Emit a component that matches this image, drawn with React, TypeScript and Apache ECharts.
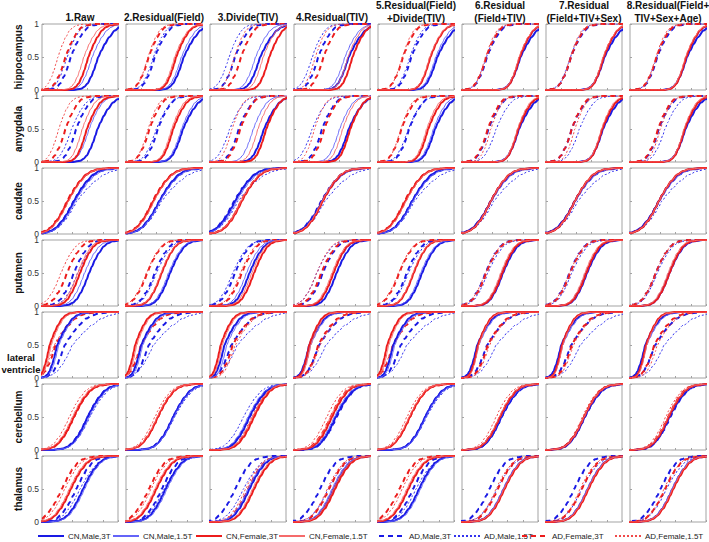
import React, { useEffect, useRef } from "react";
import * as echarts from "echarts";

// ---------------- DATA ----------------
const curveNames = [
  "CN,Male,3T",
  "CN,Male,1.5T",
  "CN,Female,3T",
  "CN,Female,1.5T",
  "AD,Male,3T",
  "AD,Male,1.5T",
  "AD,Female,3T",
  "AD,Female,1.5T",
];

const columnTitles = [
  ["1.Raw"],
  ["2.Residual(Field)"],
  ["3.Divide(TIV)"],
  ["4.Residual(TIV)"],
  ["5.Residual(Field)", "+Divide(TIV)"],
  ["6.Residual", "(Field+TIV)"],
  ["7.Residual", "(Field+TIV+Sex)"],
  ["8.Residual(Field+", "TIV+Sex+Age)"],
];

const regionNames = ["hippocampus", "amygdala", "caudate", "putamen", "lateral ventricle", "cerebellum", "thalamus"];

const yTickValues = [0, 0.5, 1];

// Cumulative-distribution shape: CDF level and its standardised offset
const cdfLevels = [0, 0, 0.02, 0.05, 0.1, 0.2, 0.3, 0.4, 0.5, 0.6, 0.7, 0.8, 0.9, 0.95, 0.98, 1, 1];
const cdfOffsets = [-9, -2.9, -2.05, -1.64, -1.28, -0.84, -0.52, -0.25, 0, 0.25, 0.52, 0.84, 1.28, 1.64, 2.05, 2.9, 9];

// Medians (x where CDF = 0.5) per column, curves in curveNames order
const hippocampusMedians = [
  [0.74, 0.66, 0.61, 0.55, 0.38, 0.33, 0.31, 0.21],
  [0.76, 0.73, 0.66, 0.64, 0.38, 0.36, 0.3, 0.29],
  [0.66, 0.6, 0.78, 0.7, 0.33, 0.25, 0.41, 0.32],
  [0.72, 0.67, 0.77, 0.71, 0.32, 0.24, 0.39, 0.28],
  [0.78, 0.76, 0.69, 0.68, 0.44, 0.42, 0.33, 0.32],
  [0.77, 0.76, 0.76, 0.75, 0.33, 0.32, 0.32, 0.31],
  [0.77, 0.76, 0.76, 0.75, 0.33, 0.32, 0.33, 0.32],
  [0.75, 0.74, 0.74, 0.73, 0.36, 0.35, 0.35, 0.34],
];
const amygdalaMedians = [
  [0.73, 0.62, 0.59, 0.53, 0.45, 0.39, 0.31, 0.22],
  [0.75, 0.73, 0.62, 0.6, 0.42, 0.4, 0.31, 0.29],
  [0.71, 0.57, 0.74, 0.63, 0.38, 0.26, 0.4, 0.29],
  [0.72, 0.6, 0.74, 0.64, 0.37, 0.24, 0.4, 0.27],
  [0.75, 0.73, 0.66, 0.64, 0.41, 0.4, 0.31, 0.3],
  [0.75, 0.74, 0.74, 0.73, 0.35, 0.45, 0.34, 0.38],
  [0.75, 0.74, 0.74, 0.73, 0.34, 0.44, 0.34, 0.38],
  [0.73, 0.72, 0.72, 0.71, 0.38, 0.46, 0.37, 0.4],
];
const caudateMedians = [
  [0.42, 0.44, 0.34, 0.35, 0.42, 0.46, 0.33, 0.34],
  [0.44, 0.45, 0.36, 0.37, 0.44, 0.47, 0.35, 0.36],
  [0.33, 0.35, 0.42, 0.41, 0.32, 0.37, 0.41, 0.4],
  [0.37, 0.38, 0.38, 0.37, 0.36, 0.41, 0.37, 0.37],
  [0.45, 0.46, 0.36, 0.37, 0.45, 0.48, 0.35, 0.36],
  [0.38, 0.39, 0.38, 0.38, 0.38, 0.42, 0.38, 0.38],
  [0.38, 0.39, 0.38, 0.38, 0.38, 0.42, 0.38, 0.38],
  [0.38, 0.39, 0.38, 0.38, 0.38, 0.42, 0.38, 0.38],
];
const putamenMedians = [
  [0.62, 0.56, 0.5, 0.47, 0.42, 0.47, 0.33, 0.25],
  [0.58, 0.56, 0.47, 0.46, 0.38, 0.4, 0.28, 0.27],
  [0.52, 0.48, 0.58, 0.55, 0.33, 0.3, 0.42, 0.4],
  [0.56, 0.52, 0.52, 0.5, 0.38, 0.3, 0.36, 0.3],
  [0.58, 0.56, 0.47, 0.46, 0.38, 0.4, 0.28, 0.27],
  [0.54, 0.52, 0.53, 0.51, 0.31, 0.34, 0.32, 0.31],
  [0.54, 0.52, 0.53, 0.51, 0.31, 0.34, 0.32, 0.31],
  [0.52, 0.51, 0.52, 0.5, 0.34, 0.36, 0.34, 0.34],
];
const lateralVentricleMedians = [
  [0.2, 0.22, 0.1, 0.12, 0.3, 0.4, 0.18, 0.16],
  [0.2, 0.22, 0.12, 0.14, 0.3, 0.36, 0.2, 0.19],
  [0.19, 0.22, 0.14, 0.16, 0.28, 0.36, 0.3, 0.33],
  [0.2, 0.22, 0.2, 0.22, 0.33, 0.42, 0.32, 0.34],
  [0.2, 0.22, 0.12, 0.14, 0.3, 0.38, 0.2, 0.19],
  [0.2, 0.22, 0.21, 0.22, 0.33, 0.45, 0.34, 0.36],
  [0.2, 0.22, 0.21, 0.22, 0.33, 0.45, 0.34, 0.36],
  [0.2, 0.22, 0.21, 0.22, 0.33, 0.45, 0.32, 0.36],
];
const cerebellumMedians = [
  [0.6, 0.62, 0.42, 0.4, 0.6, 0.63, 0.42, 0.36],
  [0.62, 0.63, 0.42, 0.41, 0.62, 0.64, 0.42, 0.38],
  [0.52, 0.5, 0.58, 0.56, 0.52, 0.44, 0.57, 0.55],
  [0.55, 0.53, 0.5, 0.48, 0.56, 0.54, 0.48, 0.43],
  [0.62, 0.63, 0.42, 0.41, 0.62, 0.64, 0.42, 0.38],
  [0.52, 0.51, 0.5, 0.49, 0.52, 0.5, 0.5, 0.45],
  [0.51, 0.5, 0.5, 0.5, 0.51, 0.5, 0.5, 0.48],
  [0.52, 0.51, 0.51, 0.5, 0.53, 0.51, 0.5, 0.47],
];
const thalamusMedians = [
  [0.54, 0.56, 0.38, 0.36, 0.45, 0.5, 0.26, 0.3],
  [0.52, 0.54, 0.4, 0.38, 0.47, 0.5, 0.3, 0.33],
  [0.52, 0.5, 0.58, 0.56, 0.33, 0.44, 0.5, 0.47],
  [0.52, 0.5, 0.54, 0.52, 0.34, 0.45, 0.46, 0.44],
  [0.54, 0.56, 0.4, 0.38, 0.46, 0.5, 0.28, 0.32],
  [0.55, 0.54, 0.56, 0.55, 0.36, 0.46, 0.47, 0.45],
  [0.55, 0.54, 0.56, 0.55, 0.37, 0.47, 0.47, 0.45],
  [0.56, 0.55, 0.57, 0.56, 0.4, 0.48, 0.46, 0.45],
];

// Spreads below / above the median, per curve
const hippocampusSpreadLow = [0.11, 0.11, 0.1, 0.1, 0.11, 0.11, 0.11, 0.1];
const hippocampusSpreadHigh = [0.17, 0.15, 0.14, 0.14, 0.14, 0.13, 0.13, 0.12];
const amygdalaSpreadLow = [0.11, 0.11, 0.1, 0.1, 0.11, 0.12, 0.11, 0.1];
const amygdalaSpreadHigh = [0.16, 0.14, 0.14, 0.13, 0.14, 0.15, 0.13, 0.12];
const caudateSpreadLow = [0.18, 0.18, 0.17, 0.17, 0.18, 0.19, 0.17, 0.17];
const caudateSpreadHigh = [0.2, 0.21, 0.19, 0.19, 0.21, 0.28, 0.2, 0.2];
const putamenSpreadLow = [0.13, 0.13, 0.13, 0.13, 0.14, 0.14, 0.14, 0.14];
const putamenSpreadHigh = [0.15, 0.15, 0.14, 0.14, 0.15, 0.16, 0.15, 0.15];
const lateralVentricleSpreadLow = [0.08, 0.08, 0.07, 0.07, 0.12, 0.16, 0.11, 0.11];
const lateralVentricleSpreadHigh = [0.16, 0.16, 0.13, 0.13, 0.22, 0.3, 0.2, 0.2];
const cerebellumSpreadLow = [0.16, 0.16, 0.16, 0.16, 0.16, 0.17, 0.16, 0.16];
const cerebellumSpreadHigh = [0.18, 0.18, 0.17, 0.17, 0.18, 0.19, 0.17, 0.17];
const thalamusSpreadLow = [0.16, 0.16, 0.16, 0.16, 0.16, 0.17, 0.16, 0.16];
const thalamusSpreadHigh = [0.17, 0.17, 0.17, 0.17, 0.17, 0.19, 0.17, 0.17];

const regionMedians = [
  hippocampusMedians,
  amygdalaMedians,
  caudateMedians,
  putamenMedians,
  lateralVentricleMedians,
  cerebellumMedians,
  thalamusMedians,
];
const regionSpreadLow = [
  hippocampusSpreadLow,
  amygdalaSpreadLow,
  caudateSpreadLow,
  putamenSpreadLow,
  lateralVentricleSpreadLow,
  cerebellumSpreadLow,
  thalamusSpreadLow,
];
const regionSpreadHigh = [
  hippocampusSpreadHigh,
  amygdalaSpreadHigh,
  caudateSpreadHigh,
  putamenSpreadHigh,
  lateralVentricleSpreadHigh,
  cerebellumSpreadHigh,
  thalamusSpreadHigh,
];

// ---------------- STYLE / LAYOUT ----------------
const FONT = "Liberation Sans, Arial, Helvetica, sans-serif";
const BLUE = "#1a1ae4";
const BLUE_LIGHT = "#6464f8";
const RED = "#ec1c1c";
const RED_LIGHT = "#f56b6b";
const curveStyles = [
  { color: BLUE, width: 2, type: "solid" as any },
  { color: BLUE_LIGHT, width: 1, type: "solid" as any },
  { color: RED, width: 2, type: "solid" as any },
  { color: RED_LIGHT, width: 1, type: "solid" as any },
  { color: BLUE, width: 2, type: [5, 4] as any },
  { color: "#3333ee", width: 1, type: [2, 2] as any },
  { color: RED, width: 2, type: [5, 4] as any },
  { color: "#f04a4a", width: 1, type: [2, 2] as any },
];
const GRID_LEFT0 = 42;
const COL_PITCH = 84;
const GRID_W = 76;
const GRID_TOP0 = 24;
const ROW_PITCH = 72;
const GRID_H = 66;
const legendTextStarts = [68, 143, 226, 309, 409, 484, 552, 645];

function buildCurve(median: number, low: number, high: number) {
  return cdfLevels.map((lv, i) => {
    const off = cdfOffsets[i];
    const x = median + off * (off < 0 ? low : high);
    return [x, lv];
  });
}

function buildOption() {
  const grid: any[] = [];
  const xAxis: any[] = [];
  const yAxis: any[] = [];
  const series: any[] = [];
  const graphic: any[] = [];

  for (let r = 0; r < regionNames.length; r++) {
    for (let c = 0; c < columnTitles.length; c++) {
      const g = r * columnTitles.length + c;
      grid.push({
        left: GRID_LEFT0 + c * COL_PITCH,
        top: GRID_TOP0 + r * ROW_PITCH,
        width: GRID_W,
        height: GRID_H,
        show: true,
        borderColor: "#a3a3a3",
        borderWidth: 1,
        backgroundColor: "#fff",
      });
      xAxis.push({
        gridIndex: g,
        type: "value",
        min: 0,
        max: 1,
        interval: 0.2,
        axisLine: { show: false },
        axisTick: { show: true, inside: true, length: 2, lineStyle: { color: "#a3a3a3" } },
        axisLabel: { show: false },
        splitLine: { show: false },
      });
      const showName = c === 0 && r !== 4;
      yAxis.push({
        gridIndex: g,
        type: "value",
        min: yTickValues[0],
        max: yTickValues[yTickValues.length - 1],
        interval: 0.5,
        axisLine: { show: false },
        axisTick: { show: true, inside: true, length: 2, lineStyle: { color: "#a3a3a3" } },
        splitLine: { show: false },
        axisLabel: {
          show: c === 0,
          fontSize: 8.5,
          color: "#333",
          margin: 3,
          fontFamily: FONT,
          formatter: (v: number) => String(v),
        },
        name: showName ? regionNames[r] : "",
        nameLocation: "middle",
        nameRotate: 90,
        nameGap: 17,
        nameTextStyle: { fontWeight: "bold", fontSize: 10, color: "#111", fontFamily: FONT },
      });
      const meds = regionMedians[r][c];
      for (let k = 0; k < curveNames.length; k++) {
        const st = curveStyles[k];
        series.push({
          type: "line",
          name: curveNames[k],
          xAxisIndex: g,
          yAxisIndex: g,
          data: buildCurve(meds[k], regionSpreadLow[r][k], regionSpreadHigh[r][k]),
          showSymbol: false,
          symbol: "none",
          smooth: 0.3,
          smoothMonotone: "x",
          silent: true,
          clip: true,
          lineStyle: { color: st.color, width: st.width, type: st.type },
          itemStyle: { color: st.color },
          z: k < 4 ? 3 : 2,
        });
      }
    }
  }

  // column titles
  columnTitles.forEach((lines, c) => {
    const cx = GRID_LEFT0 + c * COL_PITCH + GRID_W / 2;
    lines.forEach((t, i) => {
      const y = lines.length === 1 ? 17 : i === 0 ? 5.5 : 18;
      graphic.push({
        type: "text",
        x: cx,
        y,
        silent: true,
        style: {
          text: t,
          textAlign: "center",
          textVerticalAlign: "middle",
          fontFamily: FONT,
          fontWeight: "bold",
          fontSize: 10,
          fill: "#111",
        },
      });
    });
  });

  // horizontal label for lateral ventricle
  ["lateral", "ventricle"].forEach((t, i) => {
    graphic.push({
      type: "text",
      x: 21,
      y: 357 + i * 12,
      silent: true,
      style: {
        text: t,
        textAlign: "center",
        textVerticalAlign: "middle",
        fontFamily: FONT,
        fontWeight: "bold",
        fontSize: 9.5,
        fill: "#111",
      },
    });
  });

  const legend = curveNames.map((n, i) => ({
    data: [n],
    left: legendTextStarts[i] - 31,
    top: 532,
    itemWidth: 26,
    itemHeight: 10,
    itemGap: 0,
    padding: 0,
    selectedMode: false,
    itemStyle: { opacity: 0, borderWidth: 0 },
    textStyle: { fontSize: 8, color: "#222", fontFamily: FONT, padding: [0, 0, 0, -1] },
  }));

  return {
    animation: false,
    backgroundColor: "#fff",
    grid,
    xAxis,
    yAxis,
    series,
    legend,
    graphic,
  };
}

export default function App() {
  const ref = useRef<HTMLDivElement>(null);
  useEffect(() => {
    const chart = echarts.init(ref.current!, null, { renderer: "svg" });
    chart.setOption(buildOption() as any);
    return () => chart.dispose();
  }, []);
  return (
    <div
      ref={ref}
      style={{ position: "fixed", left: 0, top: 0, width: 709, height: 542, background: "#fff" }}
    />
  );
}
